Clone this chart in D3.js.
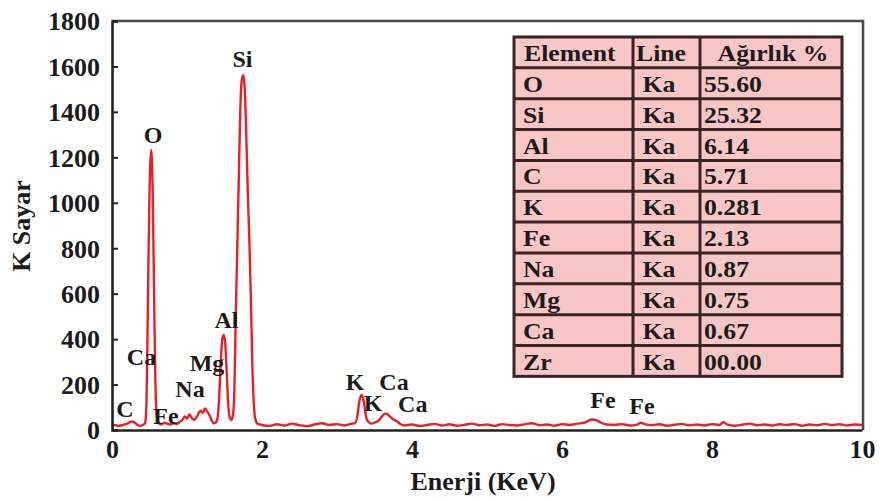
<!DOCTYPE html>
<html>
<head>
<meta charset="utf-8">
<script src="https://cdn.jsdelivr.net/npm/d3@7"></script>
<style>
  html, body { margin: 0; padding: 0; background: #fff; }
  svg { display: block; }
  text { font-family: "Liberation Serif", "Times New Roman", serif; font-weight: bold; fill: #1b1b1b; }
</style>
</head>
<body>
<svg id="chart" width="885" height="501"></svg>
<script>
// EDS spectrum: energy (keV) and counts
const energy = [
  0.00, 0.04, 0.08, 0.12, 0.16, 0.20, 0.24, 0.27, 0.30, 0.34, 0.38, 0.41,
  0.44, 0.46, 0.48, 0.50, 0.525, 0.545, 0.565, 0.585, 0.605, 0.63,
  0.66, 0.70, 0.74, 0.78, 0.82, 0.86, 0.90,
  0.94, 0.97, 1.00, 1.03, 1.06, 1.09, 1.12,
  1.15, 1.18, 1.21, 1.24, 1.27, 1.30, 1.33, 1.36,
  1.39, 1.41, 1.43, 1.45, 1.47, 1.49, 1.51, 1.53, 1.55, 1.57, 1.59,
  1.61, 1.63, 1.65, 1.67, 1.69, 1.71, 1.73, 1.75, 1.77, 1.79, 1.81, 1.83, 1.85, 1.87, 1.89, 1.91, 1.94,
  2.0, 2.1, 2.2, 2.3, 2.4, 2.5, 2.6, 2.7, 2.8, 2.9, 3.0, 3.1, 3.2,
  3.24, 3.27, 3.30, 3.33, 3.36, 3.39, 3.42, 3.46, 3.50,
  3.55, 3.60, 3.64, 3.68, 3.72, 3.76, 3.80, 3.85, 3.90,
  4.0, 4.1, 4.2, 4.3, 4.4, 4.5, 4.6, 4.7, 4.8, 4.9, 5.0, 5.1, 5.2, 5.3, 5.4, 5.5, 5.6, 5.7, 5.8, 5.9, 6.0, 6.1, 6.2,
  6.3, 6.35, 6.40, 6.45, 6.5, 6.55, 6.6,
  6.7, 6.8, 6.9, 7.0, 7.05, 7.1, 7.2, 7.3, 7.4, 7.5, 7.6, 7.7, 7.8, 7.9, 8.0, 8.1, 8.15, 8.2, 8.3, 8.4, 8.5,
  8.6, 8.7, 8.8, 8.9, 9.0, 9.1, 9.2, 9.3, 9.4, 9.5, 9.6, 9.7, 9.8, 9.9, 10.0
];
const counts = [
  15, 22, 18, 20, 24, 28, 35, 38, 33, 22, 18, 22,
  30, 120, 600, 1050, 1232, 1000, 500, 130, 45, 28,
  25, 32, 28, 24, 30, 26, 35,
  45, 60, 50, 68, 55, 45, 52,
  70, 85, 75, 95, 80, 65, 40, 30,
  35, 60, 150, 300, 400, 418, 380, 250, 110, 55, 44,
  60, 150, 500, 800, 1100, 1400, 1540, 1562, 1500, 1300, 1050, 850, 600, 300, 120, 50, 28,
  22, 18, 25, 20, 28, 21, 17, 24, 30, 22, 26, 20, 28,
  30, 60, 130, 154, 120, 55, 35, 28, 32,
  40, 60, 72, 68, 55, 45, 38, 25, 20,
  24, 18, 22, 27, 20, 25, 19, 23, 28, 21, 24, 18, 26, 22, 20, 25, 30, 21, 24, 19, 26, 22, 28,
  32, 40, 46, 44, 36, 28, 24,
  22, 26, 20, 24, 32, 26, 22, 25, 19, 23, 27, 21, 24, 20, 26, 22, 34, 25, 19, 23, 28,
  21, 24, 20, 25, 22, 26, 19, 24, 21, 27, 22, 25, 20, 24, 22
];

// Peak annotations: element name, energy (keV) and count level of the label baseline
const peakNames  = ["Si", "O", "Al", "Ca", "Mg", "Na", "C", "Fe", "K", "Ca", "K", "Ca", "Fe", "Fe"];
const peakEnergy = [1.74, 0.547, 1.527, 0.393, 1.267, 1.04, 0.173, 0.72, 3.24, 3.76, 3.48, 4.01, 6.547, 7.067];
const peakLevel  = [1598, 1263, 449, 286, 260, 145, 57, 26, 176, 176, 84, 79, 97, 70];

// Axis ticks
const xTicks = [0, 2, 4, 6, 8, 10];
const yTicks = [0, 200, 400, 600, 800, 1000, 1200, 1400, 1600, 1800];

// Composition table
const tableHeader = ["Element", "Line", "Ağırlık %"];
const elements = ["O", "Si", "Al", "C", "K", "Fe", "Na", "Mg", "Ca", "Zr"];
const lines    = ["Ka", "Ka", "Ka", "Ka", "Ka", "Ka", "Ka", "Ka", "Ka", "Ka"];
const weights  = ["55.60", "25.32", "6.14", "5.71", "0.281", "2.13", "0.87", "0.75", "0.67", "00.00"];

const svg = d3.select("#chart");
const plotLeft = 112, plotRight = 862, plotTop = 21, plotBottom = 430;

const x = d3.scaleLinear().domain([0, 10]).range([plotLeft, plotRight]);
const y = d3.scaleLinear().domain([0, 1800]).range([plotBottom, plotTop]);

// Frame (top and right edges)
svg.append("path")
  .attr("d", `M${plotLeft},${plotTop}H${plotRight + 1}V${plotBottom}`)
  .attr("fill", "none").attr("stroke", "#4a4a4a").attr("stroke-width", 2.6);

// Spectrum
const spectrum = energy.map((e, i) => [e, counts[i]]);
svg.append("path")
  .datum(spectrum)
  .attr("fill", "none")
  .attr("stroke", "#ea1f27")
  .attr("stroke-width", 2.4)
  .attr("stroke-linejoin", "round")
  .attr("d", d3.line().x(d => x(d[0])).y(d => y(d[1])).curve(d3.curveMonotoneX));

// Y axis
const yAxis = svg.append("g")
  .attr("transform", `translate(${plotLeft},0)`)
  .call(d3.axisLeft(y).tickValues(yTicks).tickSize(-6).tickPadding(12).tickFormat(d3.format("d")));
yAxis.select(".domain").attr("stroke", "#222").attr("stroke-width", 2.6);
yAxis.selectAll(".tick line").attr("stroke", "#222").attr("stroke-width", 2);
yAxis.selectAll(".tick text")
  .attr("font-size", 26).attr("font-family", "Liberation Serif").attr("font-weight", "bold")
  .attr("fill", "#1b1b1b").attr("dy", "0.34em");

// X axis
const xAxis = svg.append("g")
  .attr("transform", `translate(0,${plotBottom})`)
  .call(d3.axisBottom(x).tickValues(xTicks).tickSize(0).tickPadding(12).tickFormat(d3.format("d")));
xAxis.select(".domain").attr("stroke", "#222").attr("stroke-width", 2.4);
xAxis.selectAll(".tick text")
  .attr("font-size", 26).attr("font-family", "Liberation Serif").attr("font-weight", "bold")
  .attr("fill", "#1b1b1b").attr("dy", "0.62em");

// Axis titles
svg.append("text")
  .attr("x", 483).attr("y", 490)
  .attr("text-anchor", "middle").attr("font-size", 26)
  .text("Enerji (KeV)");
svg.append("text")
  .attr("transform", "translate(30,226) rotate(-90)")
  .attr("text-anchor", "middle").attr("font-size", 26)
  .text("K Sayar");

// Peak labels
svg.append("g").selectAll("text")
  .data(peakNames)
  .join("text")
  .attr("x", (d, i) => x(peakEnergy[i]))
  .attr("y", (d, i) => y(peakLevel[i]))
  .attr("text-anchor", "middle")
  .attr("font-size", 24)
  .text(d => d);

// Composition table
const tX = 514, tY = 37, tW = 328, rowH = 30.85;
const colX = [514, 633, 700, 842];
const nRows = elements.length + 1;
const table = svg.append("g");
table.append("rect")
  .attr("x", tX).attr("y", tY).attr("width", tW).attr("height", rowH * nRows)
  .attr("fill", "#f9c6c6").attr("stroke", "#3a2525").attr("stroke-width", 3);
table.selectAll("line.row")
  .data(d3.range(1, nRows))
  .join("line")
  .attr("x1", tX).attr("x2", tX + tW)
  .attr("y1", d => tY + d * rowH).attr("y2", d => tY + d * rowH)
  .attr("stroke", "#3a2525").attr("stroke-width", 3);
table.selectAll("line.col")
  .data(colX.slice(1, 3))
  .join("line")
  .attr("x1", d => d).attr("x2", d => d)
  .attr("y1", tY).attr("y2", tY + rowH * nRows)
  .attr("stroke", "#3a2525").attr("stroke-width", 3);

function cell(txt, cx, row, anchor) {
  table.append("text")
    .attr("transform", `translate(${cx},${tY + row * rowH + 24}) scale(1.12,1)`)
    .attr("text-anchor", anchor)
    .attr("font-size", 23)
    .text(txt);
}
cell(tableHeader[0], 524, 0, "start");
cell(tableHeader[1], 661, 0, "middle");
cell(tableHeader[2], 773, 0, "middle");
elements.forEach((el, i) => {
  cell(el, 523, i + 1, "start");
  cell(lines[i], 659, i + 1, "middle");
  cell(weights[i], 704, i + 1, "start");
});
</script>
</body>
</html>
